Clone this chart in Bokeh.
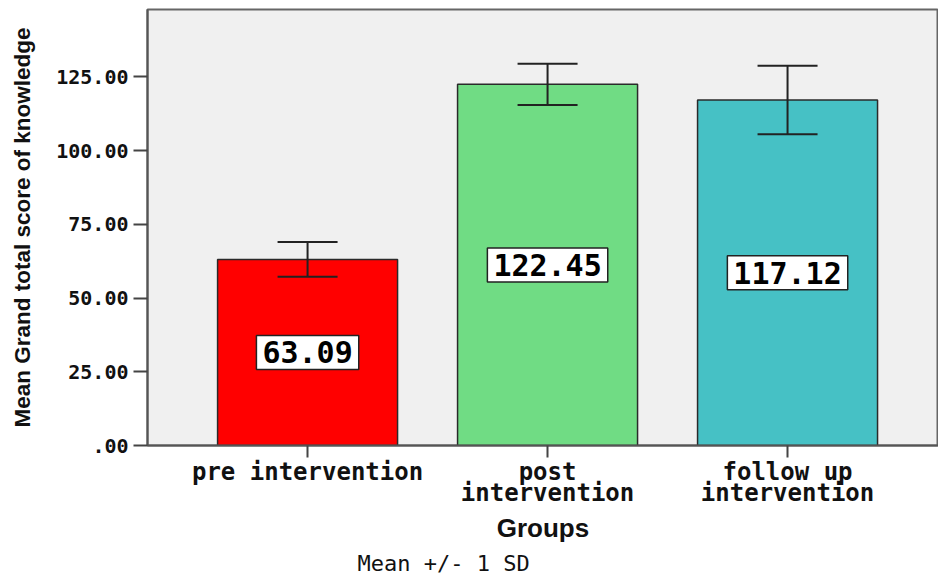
from bokeh.plotting import figure
from bokeh.models import ColumnDataSource, Range1d, FixedTicker, Whisker, TeeHead, Label, Title
from bokeh.embed import file_html
from bokeh.resources import INLINE

# ---- data ----
groups = ["pre intervention", "post\nintervention", "follow up\nintervention"]
means = [63.09, 122.45, 117.12]
sds = [5.9, 7.0, 11.6]
colors = ["#ff0000", "#70dc84", "#46c1c5"]
y_ticks = [0, 25, 50, 75, 100, 125]
y_tick_labels = [".00", "25.00", "50.00", "75.00", "100.00", "125.00"]
x_pos = list(range(len(groups)))

src = ColumnDataSource(dict(
    x=x_pos, top=means, color=colors,
    upper=[m + s for m, s in zip(means, sds)],
    lower=[m - s for m, s in zip(means, sds)],
    mid=[m / 2 for m in means],
))

p = figure(width=938, height=577, output_backend="svg", toolbar_location=None,
           x_range=Range1d(-0.667, 2.629), y_range=Range1d(0, 147.8),
           min_border_left=147, min_border_right=0, min_border_top=9, min_border_bottom=100)
p.background_fill_color = "#f0f0f0"
p.border_fill_color = "white"
p.outline_line_color = "#666666"
p.outline_line_width = 2
p.grid.visible = False

p.vbar(x="x", top="top", width=0.75, source=src, fill_color="color",
       line_color="#2a2a2a", line_width=1.5)

w = Whisker(base="x", upper="upper", lower="lower", source=src, level="overlay",
            line_color="#222222", line_width=2,
            upper_head=TeeHead(size=60, line_color="#222222", line_width=2),
            lower_head=TeeHead(size=60, line_color="#222222", line_width=2))
p.add_layout(w)

for xi, m, mid in zip(x_pos, means, src.data["mid"]):
    p.add_layout(Label(x=xi, y=mid, text=f"{m:.2f}", text_align="center",
                       text_baseline="middle", text_font="DejaVu Sans Mono",
                       text_font_style="bold", text_font_size="30px", text_color="black",
                       background_fill_color="white", border_line_color="#222222",
                       border_line_width=1.5, padding=6))

# axes
p.yaxis.ticker = FixedTicker(ticks=y_ticks)
p.yaxis.major_label_overrides = {t: l for t, l in zip(y_ticks, y_tick_labels)}
p.yaxis.major_label_text_font = "DejaVu Sans Mono"
p.yaxis.major_label_text_font_style = "bold"
p.yaxis.major_label_text_font_size = "20px"
p.yaxis.major_label_text_color = "#111111"
p.yaxis.major_tick_out = 14
p.yaxis.major_tick_in = 0
p.yaxis.minor_tick_line_color = None
p.yaxis.axis_label = "Mean Grand total score of knowledge"
p.yaxis.axis_label_text_font = "Liberation Sans"
p.yaxis.axis_label_text_font_style = "bold"
p.yaxis.axis_label_text_font_size = "22.5px"
p.yaxis.axis_label_text_color = "#111111"
p.yaxis.axis_label_standoff = 18

p.xaxis.ticker = FixedTicker(ticks=x_pos)
p.xaxis.major_label_overrides = {t: l for t, l in zip(x_pos, groups)}
p.xaxis.major_label_text_font = "DejaVu Sans Mono"
p.xaxis.major_label_text_font_style = "bold"
p.xaxis.major_label_text_font_size = "24px"
p.xaxis.major_label_text_color = "#111111"
p.xaxis.major_label_text_line_height = 0.77
p.xaxis.major_tick_out = 12
p.xaxis.major_tick_in = 0
p.xaxis.minor_tick_line_color = None
p.xaxis.major_label_standoff = 0
p.xaxis.axis_label = "Groups"
p.xaxis.axis_label_text_font = "Liberation Sans"
p.xaxis.axis_label_text_font_style = "bold"
p.xaxis.axis_label_text_font_size = "26px"
p.xaxis.axis_label_text_color = "#111111"
p.xaxis.axis_label_standoff = 3

for ax in (p.xaxis, p.yaxis):
    ax.axis_line_color = "#555555"
    ax.axis_line_width = 2
    ax.major_tick_line_color = "#444444"
    ax.major_tick_line_width = 2

p.add_layout(Title(text="Mean +/- 1 SD", align="left", offset=210, standoff=4,
                   text_font="DejaVu Sans Mono", text_font_style="normal",
                   text_font_size="22px", text_color="#111111"), "below")

open("out.html", "w").write(file_html(p, INLINE))
